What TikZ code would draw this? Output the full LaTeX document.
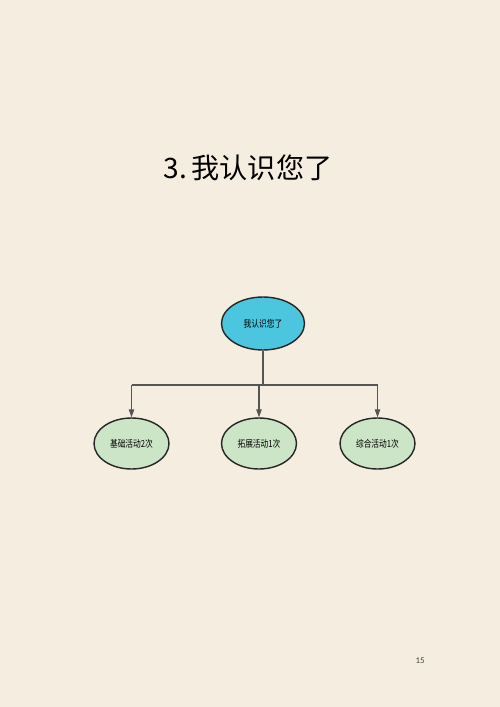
\documentclass[tikz,border=0pt]{standalone}
\usepackage{fontspec}
\usepackage{graphicx}
\setmainfont{Carlito}
\newfontfamily\cjk{Noto Sans CJK SC}
\usetikzlibrary{shapes.geometric,arrows.meta}
\definecolor{paper}{HTML}{F5EEE0}
\definecolor{rootfill}{HTML}{4CC6DF}
\definecolor{kidfill}{HTML}{CCE5C6}
\definecolor{wire}{HTML}{555555}
\begin{document}
\begin{tikzpicture}[x=0.02cm, y=-0.02cm]
        \tikzset{bubble/.style={ellipse, draw=black!85, line width=0.8pt,
                                inner sep=0pt, font=\cjk\fontsize{5.5}{6}\selectfont},
                 rootnode/.style={bubble, fill=rootfill,
                                  minimum width=1.66cm, minimum height=1.06cm},
                 kidnode/.style={bubble, fill=kidfill,
                                 minimum width=1.5cm, minimum height=1.02cm},
                 wires/.style={wire, line width=0.6pt},
                 feed/.style={wires, -{Triangle[length=1.6mm, width=1.1mm]}}}
        \fill[paper] (0, 0) rectangle (500, 707);
        \useasboundingbox (0, 0) rectangle (500, 707);

        \node[font=\cjk\fontsize{16}{18}\selectfont] (title) at (248, 168)
             {3.\,我认识您了};

        \node[rootnode] (root) at (263, 323.5) {\scalebox{0.8}[1]{我认识您了}};

        \node[kidnode] (basic)  at (131.5, 443.5) {\scalebox{0.8}[1]{基础活动2次}};
        \node[kidnode] (expand) at (259, 443.5)   {\scalebox{0.8}[1]{拓展活动1次}};
        \node[kidnode] (mixed)  at (377.5, 443.5) {\scalebox{0.8}[1]{综合活动1次}};

        % bus line
        \coordinate (busL) at (131.5, 385);
        \coordinate (busM) at (259, 385);
        \coordinate (busR) at (377.5, 385);

        \draw[wires] (root.south) -- (root.south |- busL);
        \draw[wires] (busL) -- (busR);
        \draw[feed] (busL) -- (basic.north);
        \draw[feed] (busM) -- (expand.north);
        \draw[feed] (busR) -- (mixed.north);

        \node[font=\fontsize{5}{6}\selectfont, text=black!75] (page) at (420, 661) {15};
      \end{tikzpicture}
\end{document}
